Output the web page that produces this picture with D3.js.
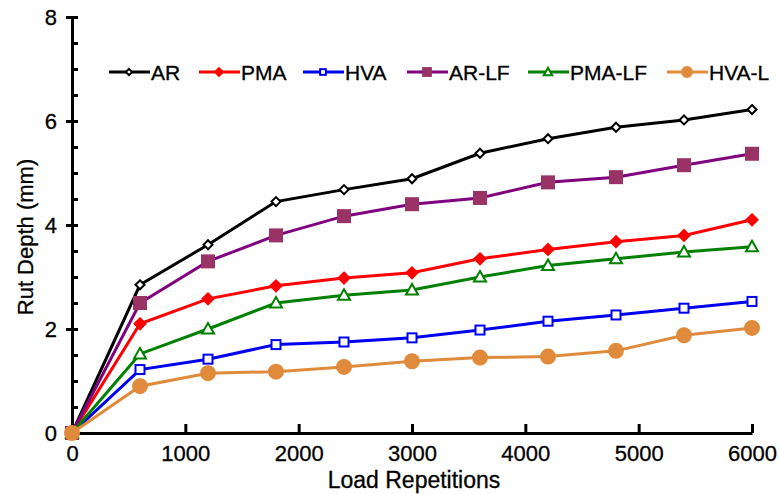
<!DOCTYPE html>
<html>
<head>
<script src="https://d3js.org/d3.v7.min.js" charset="utf-8"></script>
<style>
    body{margin:0;background:#fff;font-family:"Liberation Sans",Arial,sans-serif;}
    .axis text{font-family:"Liberation Sans",Arial,sans-serif;font-size:22px;fill:#000;stroke:#000;stroke-width:0.3;}
    .axis path,.axis line{stroke:#000;stroke-width:3;}
    .lbl{stroke:#000;stroke-width:0.3;}
</style>
</head>
<body>
<div id="chart"></div>
<script>
    var reps = [0,600,1200,1800,2400,3000,3600,4200,4800,5400,6000]
    var AR    = [0,2.85,3.62,4.45,4.68,4.89,5.38,5.66,5.88,6.02,6.22]
    var PMA   = [0,2.10,2.58,2.83,2.98,3.08,3.35,3.53,3.68,3.80,4.10]
    var HVA   = [0,1.22,1.42,1.70,1.75,1.83,1.98,2.15,2.27,2.40,2.53]
    var ARLF  = [0,2.50,3.30,3.80,4.17,4.40,4.52,4.82,4.92,5.15,5.37]
    var PMALF = [0,1.52,2.00,2.50,2.65,2.75,3.00,3.22,3.35,3.48,3.58]
    var HVAL  = [0,0.90,1.15,1.18,1.27,1.38,1.45,1.47,1.58,1.88,2.02]
    var xTicks = [0,1000,2000,3000,4000,5000,6000]
    var yTicks = [0,2,4,6,8]

    var series = [
        {name:"AR",values:AR,line:"#000",shape:"diamond",fill:"#fff",stroke:"#000",size:9},
        {name:"PMA",values:PMA,line:"#f00",shape:"diamond",fill:"#f00",stroke:"#f00",size:11},
        {name:"HVA",values:HVA,line:"#0000f0",shape:"square",fill:"#fff",stroke:"#0000f0",size:11},
        {name:"AR-LF",values:ARLF,line:"#800080",shape:"square",fill:"#993366",stroke:"#993366",size:14},
        {name:"PMA-LF",values:PMALF,line:"#008000",shape:"triangle",fill:"#fff",stroke:"#008000",size:12},
        {name:"HVA-L",values:HVAL,line:"#e08a3c",shape:"circle",fill:"#e08a3c",stroke:"#e08a3c",size:14}
    ]
    var legendX = [109,199,303,407,528,667]

    var svg = d3.select("#chart").append("svg")
        .attr("width",779).attr("height",494)

    var x = d3.scaleLinear().domain([0,6000]).range([72,752])
    var y = d3.scaleLinear().domain([0,8]).range([433,17])

    // axes
    svg.append("g").attr("class","axis")
        .attr("transform","translate(0,"+y(0)+")")
        .call(d3.axisBottom(x).tickValues(xTicks).tickFormat(d3.format("d"))
            .tickSizeInner(-9).tickSizeOuter(0).tickPadding(12))

    svg.append("g").attr("class","axis")
        .attr("transform","translate("+x(0)+",0)")
        .call(d3.axisRight(y).tickValues(d3.range(0,8.01,0.5)).tickSize(6).tickFormat(""))
    svg.append("g").attr("class","axis")
        .attr("transform","translate("+x(0)+",0)")
        .call(d3.axisLeft(y).tickValues(yTicks).tickSizeInner(6).tickSizeOuter(0).tickPadding(9))

    svg.append("text").attr("class","lbl").attr("x",414).attr("y",488)
        .attr("text-anchor","middle").attr("font-size",23).attr("fill","#000")
        .text("Load Repetitions")
    svg.append("text").attr("class","lbl").attr("transform","translate(33,237) rotate(-90)")
        .attr("text-anchor","middle").attr("font-size",22).attr("fill","#000")
        .text("Rut Depth (mm)")

    function marker(g,s){
        var h = s.size/2
        var m
        if(s.shape=="circle"){
            m = g.append("circle").attr("r",h)
        } else if(s.shape=="square"){
            m = g.append("rect").attr("x",-h+1).attr("y",-h+1).attr("width",s.size-2).attr("height",s.size-2)
        } else if(s.shape=="diamond"){
            m = g.append("path").attr("d","M0,"+(-h)+"L"+h+",0L0,"+h+"L"+(-h)+",0Z")
        } else {
            m = g.append("path").attr("d","M0,"+(-h)+"L"+(h)+","+(h*0.75)+"L"+(-h)+","+(h*0.75)+"Z")
        }
        m.attr("fill",s.fill).attr("stroke",s.stroke).attr("stroke-width",2)
    }

    var line = d3.line().x(function(d,i){return x(reps[i])}).y(function(d){return y(d)})

    series.forEach(function(s){
        svg.append("path").datum(s.values)
            .attr("d",line).attr("fill","none")
            .attr("stroke",s.line).attr("stroke-width",3)
        s.values.forEach(function(v,i){
            var g = svg.append("g").attr("transform","translate("+x(reps[i])+","+y(v)+")")
            marker(g,s)
        })
    })

    // legend
    series.forEach(function(s,i){
        var lg = svg.append("g").attr("transform","translate("+legendX[i]+",72)")
        lg.append("line").attr("x1",0).attr("x2",41)
            .attr("stroke",s.line).attr("stroke-width",3)
        var mg = lg.append("g").attr("transform","translate(20,0)")
        marker(mg,{shape:s.shape,fill:s.fill,stroke:s.stroke,size:s.size*0.7})
        lg.append("text").attr("class","lbl").attr("x",42).attr("y",8)
            .attr("font-size",21).attr("fill","#000").text(s.name)
    })
</script>
</body>
</html>
